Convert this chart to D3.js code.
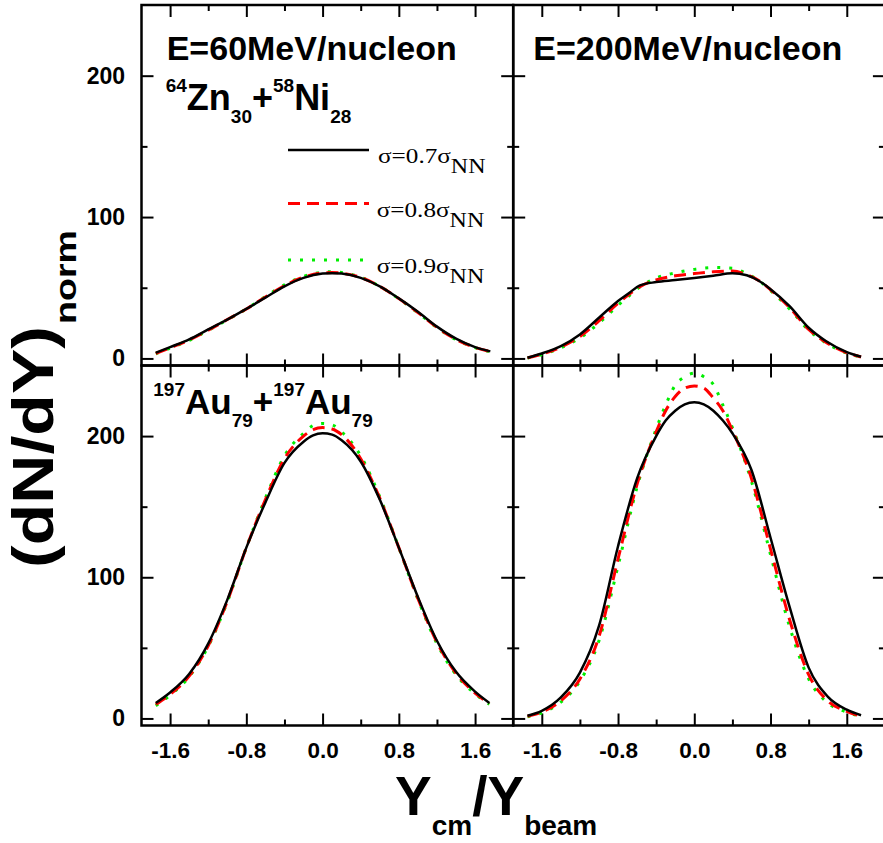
<!DOCTYPE html>
<html><head><meta charset="utf-8">
<script src="https://cdn.jsdelivr.net/npm/d3@7"></script>
<style>body{margin:0;background:#fff}svg{display:block}</style>
</head><body>
<svg id="chart" width="883" height="843"></svg>
<script>
// ---------- data ----------
const xTickMajor = [-1.6, -0.8, 0.0, 0.8, 1.6];
const xTickMinor = [-1.2, -0.4, 0.4, 1.2];
const xTickLabels = ["-1.6", "-0.8", "0.0", "0.8", "1.6"];
const yTickMajor = [0, 100, 200];
const yTickMinor = [50, 150];
const yTickLabels = ["0", "100", "200"];
const seriesNames = ["σ=0.7σ", "σ=0.8σ", "σ=0.9σ"];
const seriesSub = "NN";

// Zn+Ni, 60 MeV/nucleon
const xZnNi60 = [-1.75,-1.6,-1.4,-1.2,-1.0,-0.8,-0.6,-0.4,-0.2,0,0.1,0.2,0.4,0.6,0.8,1.0,1.2,1.4,1.6,1.76];
const znNi60s07 = [4,8,13.5,20.5,27.5,35,43,51,57,60,60.3,60,57,51,42.5,33,22.5,14,8,5];
const znNi60s08 = [3.5,7.5,13,20,27.5,35,43.5,51.5,57.5,60.5,60.8,60.3,57.3,51,42.3,32.5,22,13.5,7.8,4.8];
const znNi60s09 = [3.3,7.2,12.8,19.8,27.3,35,43.8,52,58,61,61.3,60.8,57.5,51,42.2,32.3,21.8,13.3,7.6,4.6];

// Zn+Ni, 200 MeV/nucleon
const xZnNi200 = [-1.75,-1.6,-1.4,-1.2,-1.0,-0.8,-0.68,-0.57,-0.4,-0.2,0,0.2,0.4,0.55,0.68,0.8,1.0,1.2,1.38,1.6,1.75];
const znNi200s07 = [0.5,3.5,8.7,17,28.8,40.6,46.5,51.7,54,55.4,56.9,58.5,60.2,58.8,54.8,49,37,21.7,12.3,4.5,1.2];
const znNi200s08 = [0.4,3,8,15.5,26.5,39,45.5,50.8,55.5,58.5,60,61.3,61.8,59.2,55,48.5,36,20.5,11.5,4,1];
const znNi200s09 = [0.3,2.8,7.5,14.5,25,37.5,44.5,50.5,57,60.5,63,64.3,63.8,60,55,48,35,20,11,3.8,1];

// Au+Au, 60 MeV/nucleon
const xAuAu60 = [-1.75,-1.6,-1.4,-1.2,-1.0,-0.8,-0.6,-0.4,-0.2,-0.1,0,0.1,0.2,0.4,0.6,0.8,1.0,1.2,1.4,1.6,1.75];
const auAu60s07 = [11,18.4,31.5,53,84,121,153,181,196,200.5,202,201,197,182,155,121,86,55,33,19,11];
const auAu60s08 = [10,17,30,51.5,83,121,155,184,200,204.5,206,205,201,184,156,121,85,54,32,18,10.5];
const auAu60s09 = [9,16.5,29.5,51,82.5,121,156,186,202,207.5,209,208,203,186,157,121,84.5,53,31,17.5,10];

// Au+Au, 200 MeV/nucleon
const xAuAu200 = [-1.75,-1.6,-1.4,-1.2,-1.0,-0.8,-0.6,-0.4,-0.3,-0.2,-0.1,0,0.1,0.2,0.3,0.4,0.6,0.8,1.0,1.2,1.4,1.6,1.75];
const auAu200s07 = [1.9,5.4,14.9,32.5,65.5,122,170,200,211,218,222.5,224,222.5,218,211,202,176,128,79,36,15.5,6.2,2.3];
const auAu200s08 = [1.5,4.5,12.5,28,58,113,166,203,218,228,234,235.5,234,227,218,204,170,120,70,31,12.5,5,1.5];
const auAu200s09 = [1.2,4,11.5,26.5,55,108,164,205,222,236,242,244.5,242,236.5,222,206,168,116,65,28,11,4.5,1.5];

// ---------- layout ----------
const svg = d3.select("#chart");
const X0 = 141.5, XM = 513.2, X1 = 884.9;
const Y0 = 5, YM = 365.5, Y1 = 725.5;
const xDomain = [-1.9, 2.0], yDomain = [-5, 250];
const boldFont = "'Liberation Sans', Arial, Helvetica, sans-serif";
const serifFont = "'Liberation Serif', 'Times New Roman', serif";
const styles = [
  {color: "#000000", width: 2.5, dash: null},
  {color: "#ff0000", width: 3, dash: "12,7"},
  {color: "#00ee00", width: 3, dash: "3,9"}
];

const panels = [
  {x0: X0, x1: XM, y0: Y0, y1: YM, xs: xZnNi60, ys: [znNi60s07, znNi60s08, znNi60s09], xl: false, yl: true},
  {x0: XM, x1: X1, y0: Y0, y1: YM, xs: xZnNi200, ys: [znNi200s07, znNi200s08, znNi200s09], xl: false, yl: false},
  {x0: X0, x1: XM, y0: YM, y1: Y1, xs: xAuAu60, ys: [auAu60s07, auAu60s08, auAu60s09], xl: true, yl: true},
  {x0: XM, x1: X1, y0: YM, y1: Y1, xs: xAuAu200, ys: [auAu200s07, auAu200s08, auAu200s09], xl: true, yl: false}
];

function styleAxis(g) {
  g.select(".domain").remove();
  g.selectAll(".tick line").attr("stroke", "#000").attr("stroke-width", 2);
  g.selectAll(".tick text").attr("font-family", boldFont).attr("font-weight", "bold").attr("fill", "#000");
}

panels.forEach(p => {
  const x = d3.scaleLinear().domain(xDomain).range([p.x0, p.x1]);
  const y = d3.scaleLinear().domain(yDomain).range([p.y1, p.y0]);
  const g = svg.append("g");

  const xfmt = (d, i) => p.xl ? xTickLabels[i] : "";
  const yfmt = (d, i) => p.yl ? yTickLabels[i] : "";
  g.append("g").attr("transform", `translate(0,${p.y1})`)
    .call(d3.axisBottom(x).tickValues(xTickMajor).tickSizeInner(-12).tickSizeOuter(0).tickPadding(17).tickFormat(xfmt))
    .call(styleAxis).selectAll("text").attr("font-size", 22.5);
  g.append("g").attr("transform", `translate(0,${p.y1})`)
    .call(d3.axisBottom(x).tickValues(xTickMinor).tickSizeInner(-6).tickSizeOuter(0).tickFormat(""))
    .call(styleAxis);
  g.append("g").attr("transform", `translate(0,${p.y0})`)
    .call(d3.axisTop(x).tickValues(xTickMajor).tickSizeInner(-12).tickSizeOuter(0).tickFormat(""))
    .call(styleAxis);
  g.append("g").attr("transform", `translate(0,${p.y0})`)
    .call(d3.axisTop(x).tickValues(xTickMinor).tickSizeInner(-6).tickSizeOuter(0).tickFormat(""))
    .call(styleAxis);
  g.append("g").attr("transform", `translate(${p.x0},0)`)
    .call(d3.axisLeft(y).tickValues(yTickMajor).tickSizeInner(-12).tickSizeOuter(0).tickPadding(16.5).tickFormat(yfmt))
    .call(styleAxis).selectAll("text").attr("font-size", 23);
  g.append("g").attr("transform", `translate(${p.x0},0)`)
    .call(d3.axisLeft(y).tickValues(yTickMinor).tickSizeInner(-6).tickSizeOuter(0).tickFormat(""))
    .call(styleAxis);
  g.append("g").attr("transform", `translate(${p.x1},0)`)
    .call(d3.axisRight(y).tickValues(yTickMajor).tickSizeInner(-12).tickSizeOuter(0).tickFormat(""))
    .call(styleAxis);
  g.append("g").attr("transform", `translate(${p.x1},0)`)
    .call(d3.axisRight(y).tickValues(yTickMinor).tickSizeInner(-6).tickSizeOuter(0).tickFormat(""))
    .call(styleAxis);

  const line = d3.line().x(d => x(d[0])).y(d => y(d[1])).curve(d3.curveMonotoneX);
  [2, 1, 0].forEach(k => {
    const pts = p.xs.map((xv, i) => [xv, p.ys[k][i]]);
    g.append("path").attr("d", line(pts)).attr("fill", "none")
      .attr("stroke", styles[k].color).attr("stroke-width", styles[k].width)
      .attr("stroke-dasharray", styles[k].dash);
  });

  g.append("rect").attr("x", p.x0).attr("y", p.y0)
    .attr("width", p.x1 - p.x0).attr("height", p.y1 - p.y0)
    .attr("fill", "none").attr("stroke", "#000").attr("stroke-width", 2.5);
});

// ---------- panel annotations ----------
function bold(x, y, size) {
  return svg.append("text").attr("x", x).attr("y", y).attr("font-family", boldFont)
    .attr("font-weight", "bold").attr("font-size", size).attr("fill", "#000");
}
bold(166.7, 59.5, 34).text("E=60MeV/nucleon");
bold(533.3, 60, 34).text("E=200MeV/nucleon");

function nuclide(x, yb, parts, bigSize, smallSize) {
  const t = bold(x, yb - 18, smallSize);
  let level = "sup";
  parts.forEach((pt, i) => {
    const s = t.append("tspan").text(pt.t).attr("font-size", pt.k === "m" ? bigSize : smallSize);
    const target = pt.k === "sup" ? -18 : pt.k === "sub" ? 13 : 0;
    const cur = level === "sup" ? -18 : level === "sub" ? 13 : 0;
    if (i > 0) s.attr("dy", target - cur);
    level = pt.k;
  });
}
nuclide(165.7, 110, [{t:"64",k:"sup"},{t:"Zn",k:"m"},{t:"30",k:"sub"},{t:"+",k:"m"},{t:"58",k:"sup"},{t:"Ni",k:"m"},{t:"28",k:"sub"}], 36, 19);
nuclide(153.3, 414, [{t:"197",k:"sup"},{t:"Au",k:"m"},{t:"79",k:"sub"},{t:"+",k:"m"},{t:"197",k:"sup"},{t:"Au",k:"m"},{t:"79",k:"sub"}], 35, 19);

// ---------- legend ----------
const legY = [150, 203.5, 260];
const legTextY = [163, 217, 273];
seriesNames.forEach((name, k) => {
  svg.append("line").attr("x1", 288).attr("x2", 369).attr("y1", legY[k]).attr("y2", legY[k])
    .attr("stroke", styles[k].color).attr("stroke-width", styles[k].width)
    .attr("stroke-dasharray", styles[k].dash);
  const gt = svg.append("g").attr("transform", `translate(${k === 0 ? 378 : 376.7},${legTextY[k]}) scale(1.2,1)`);
  const t = gt.append("text").attr("font-family", serifFont).attr("font-size", 21).attr("fill", "#000");
  t.append("tspan").text(name);
  t.append("tspan").text(seriesSub).attr("font-size", 20).attr("dy", 10);
});

// ---------- axis titles ----------
const xt = bold(395, 815, 55);
xt.append("tspan").text("Y");
xt.append("tspan").text("cm").attr("font-size", 28).attr("dy", 20);
xt.append("tspan").text("/Y").attr("dy", -20);
xt.append("tspan").text("beam").attr("font-size", 28).attr("dy", 20);

const yt = svg.append("g").attr("transform", "rotate(-90)");
yt.append("text").attr("x", -568).attr("y", 53).attr("font-family", boldFont).attr("font-weight", "bold")
  .attr("font-size", 58).attr("textLength", 242).attr("lengthAdjust", "spacingAndGlyphs").text("(dN/dY)");
yt.append("text").attr("x", -324).attr("y", 76).attr("font-family", boldFont).attr("font-weight", "bold")
  .attr("font-size", 30).attr("textLength", 94).attr("lengthAdjust", "spacingAndGlyphs").text("norm");
</script>
</body></html>
